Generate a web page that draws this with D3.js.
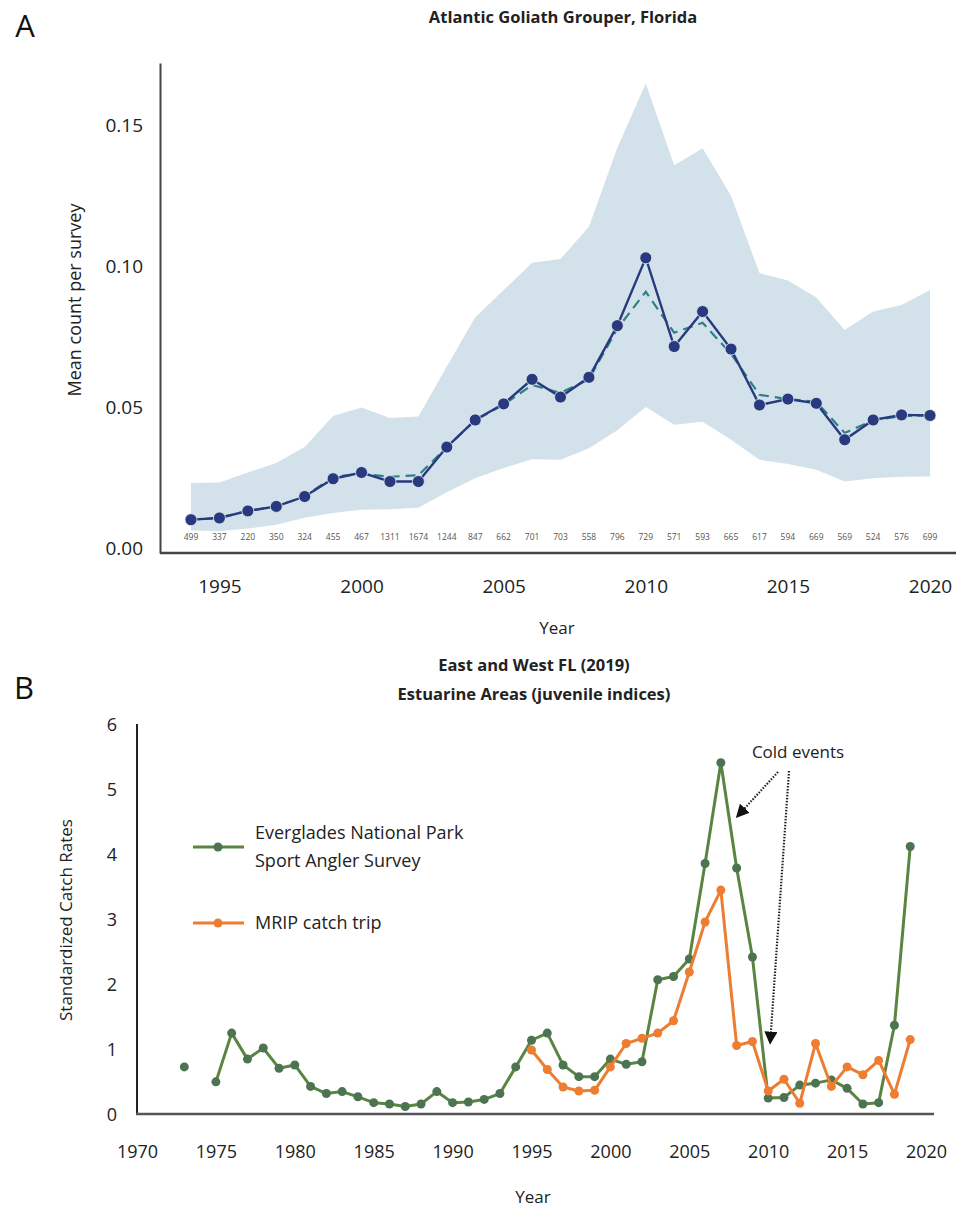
<!DOCTYPE html>
<html>
<head>
<meta charset="utf-8">
<script src="https://cdn.jsdelivr.net/npm/d3@7"></script>
<style>
  body { margin: 0; background: #fff; }
  svg { display: block; font-family: 'Open Sans', sans-serif; }
</style>
</head>
<body>
<svg id="chart" width="956" height="1211"></svg>
<script>
// Panel A: Atlantic Goliath Grouper, Florida
var yearsA = [1994, 1995, 1996, 1997, 1998, 1999, 2000, 2001, 2002, 2003, 2004, 2005, 2006,
  2007, 2008, 2009, 2010, 2011, 2012, 2013, 2014, 2015, 2016, 2017, 2018, 2019, 2020];
var meanA = [0.0103, 0.0109, 0.0134, 0.015, 0.0185, 0.0248, 0.027, 0.0238, 0.0238, 0.036, 0.0456,
  0.0513, 0.060, 0.0537, 0.0607, 0.079, 0.103, 0.0716, 0.084, 0.0707, 0.0509, 0.053, 0.0515,
  0.0386, 0.0456, 0.0474, 0.0472];
var modelA = [0.0103, 0.011, 0.0134, 0.015, 0.0185, 0.0255, 0.0265, 0.0255, 0.026, 0.036, 0.0455,
  0.051, 0.058, 0.0552, 0.060, 0.078, 0.091, 0.0765, 0.080, 0.069, 0.0545, 0.053, 0.052,
  0.041, 0.0455, 0.047, 0.0472];
var upperA = [0.0233, 0.0235, 0.027, 0.0304, 0.036, 0.047, 0.050, 0.0463, 0.0468, 0.0645, 0.082,
  0.0916, 0.1013, 0.1026, 0.114, 0.142, 0.1647, 0.1358, 0.1418, 0.125, 0.0976, 0.095, 0.089,
  0.0775, 0.084, 0.0863, 0.0916];
var lowerA = [0.0065, 0.0062, 0.0072, 0.0085, 0.011, 0.0127, 0.0138, 0.014, 0.0145, 0.020, 0.025,
  0.0286, 0.0317, 0.0315, 0.0356, 0.042, 0.0502, 0.0439, 0.045, 0.0386, 0.0315, 0.030, 0.028,
  0.0238, 0.025, 0.0255, 0.0256];
var surveysA = [499, 337, 220, 350, 324, 455, 467, 1311, 1674, 1244, 847, 662, 701, 703, 558, 796,
  729, 571, 593, 665, 617, 594, 669, 569, 524, 576, 699];
var yTicksA = [0, 0.05, 0.10, 0.15];
var xTicksA = [1995, 2000, 2005, 2010, 2015, 2020];

// Panel B: East and West FL estuarine juvenile indices
var yearsENP = [1973, 1975, 1976, 1977, 1978, 1979, 1980, 1981, 1982, 1983, 1984, 1985, 1986, 1987,
  1988, 1989, 1990, 1991, 1992, 1993, 1994, 1995, 1996, 1997, 1998, 1999, 2000, 2001, 2002, 2003,
  2004, 2005, 2006, 2007, 2008, 2009, 2010, 2011, 2012, 2013, 2014, 2015, 2016, 2017, 2018, 2019];
var ratesENP = [0.74, 0.51, 1.26, 0.86, 1.03, 0.72, 0.77, 0.44, 0.33, 0.36, 0.28, 0.19, 0.17, 0.13,
  0.17, 0.36, 0.19, 0.20, 0.24, 0.33, 0.74, 1.15, 1.26, 0.77, 0.59, 0.59, 0.86, 0.78, 0.82, 2.08,
  2.13, 2.40, 3.87, 5.42, 3.80, 2.43, 0.26, 0.27, 0.46, 0.49, 0.54, 0.41, 0.17, 0.19, 1.38, 4.13];
var yearsMRIP = [1995, 1996, 1997, 1998, 1999, 2000, 2001, 2002, 2003, 2004, 2005, 2006, 2007,
  2008, 2009, 2010, 2011, 2012, 2013, 2014, 2015, 2016, 2017, 2018, 2019];
var ratesMRIP = [1.0, 0.70, 0.43, 0.37, 0.38, 0.74, 1.10, 1.18, 1.26, 1.45, 2.20, 2.97, 3.46,
  1.07, 1.13, 0.37, 0.55, 0.18, 1.10, 0.44, 0.74, 0.62, 0.84, 0.32, 1.16];
var yTicksB = [0, 1, 2, 3, 4, 5, 6];
var xTicksB = [1970, 1975, 1980, 1985, 1990, 1995, 2000, 2005, 2010, 2015, 2020];
var coldEventYears = [2008, 2010];

var svg = d3.select('#chart');

var bandColor = '#d3e2ea',
    meanColor = '#29397f',
    modelColor = '#2f7f86',
    greenLine = '#5a8540',
    greenDot = '#4d7452',
    orange = '#ed7d31',
    axisColor = '#444';

drawPanelA();
drawPanelB();

// strip d3's default axis font so the page font is used
function styleTicks(g, size) {
  g.attr('font-family', null).attr('font-size', null);
  g.selectAll('text').attr('font-size', size).attr('fill', '#222');
}

function drawPanelA() {
  var x = d3.scaleLinear().domain([1994, 2020]).range([191, 930]),
      y = d3.scaleLinear().domain([-0.0015, 0.172]).range([553, 63]);

  var rows = yearsA.map(function (yr, i) {
    return { year: yr, mean: meanA[i], model: modelA[i], lo: lowerA[i], hi: upperA[i], n: surveysA[i] };
  });

  svg.append('text')
  .attr('x', 25).attr('y', 37)
  .attr('text-anchor', 'middle')
  .attr('font-size', 31)
  .attr('fill', '#111')
  .text('A');

  svg.append('text')
  .attr('x', 563).attr('y', 23)
  .attr('text-anchor', 'middle')
  .attr('font-size', 16.5)
  .attr('font-weight', 'bold')
  .attr('fill', '#222')
  .text('Atlantic Goliath Grouper, Florida');

  svg.append('path')
  .datum(rows)
  .attr('fill', bandColor)
  .attr('d', d3.area()
  .x(function (d) { return x(d.year); })
  .y0(function (d) { return y(d.lo); })
  .y1(function (d) { return y(d.hi); }));

  svg.append('path')
  .datum(rows)
  .attr('fill', 'none')
  .attr('stroke', modelColor)
  .attr('stroke-width', 2.2)
  .attr('stroke-dasharray', '10,6')
  .attr('d', d3.line()
  .x(function (d) { return x(d.year); })
  .y(function (d) { return y(d.model); }));

  svg.append('path')
  .datum(rows)
  .attr('fill', 'none')
  .attr('stroke', meanColor)
  .attr('stroke-width', 2.4)
  .attr('d', d3.line()
  .x(function (d) { return x(d.year); })
  .y(function (d) { return y(d.mean); }));

  svg.append('g')
  .selectAll('circle')
  .data(rows)
  .enter()
  .append('circle')
  .attr('cx', function (d) { return x(d.year); })
  .attr('cy', function (d) { return y(d.mean); })
  .attr('r', 6)
  .attr('fill', meanColor)
  .attr('stroke', '#e8eef4')
  .attr('stroke-width', 0.8);

  svg.append('g')
  .selectAll('text')
  .data(rows)
  .enter()
  .append('text')
  .attr('x', function (d) { return x(d.year); })
  .attr('y', 540)
  .attr('text-anchor', 'middle')
  .attr('font-size', 8.5)
  .attr('fill', '#555')
  .text(function (d) { return d.n; });

  // axes
  var yAxis = svg.append('g')
  .attr('transform', 'translate(160,0)')
  .call(d3.axisLeft(y).tickValues(yTicksA).tickSize(0).tickSizeOuter(0).tickPadding(17)
  .tickFormat(d3.format('.2f')));
  yAxis.select('.domain').attr('stroke', axisColor).attr('stroke-width', 2);
  styleTicks(yAxis, 19);

  svg.append('line')
  .attr('x1', 160).attr('x2', 956)
  .attr('y1', 553).attr('y2', 553)
  .attr('stroke', axisColor)
  .attr('stroke-width', 2.5);

  var xAxis = svg.append('g')
  .attr('transform', 'translate(0,553)')
  .call(d3.axisBottom(x).tickValues(xTicksA).tickSize(0).tickPadding(27).tickFormat(d3.format('d')));
  xAxis.select('.domain').remove();
  styleTicks(xAxis, 19);

  svg.append('text')
  .attr('x', 557).attr('y', 634)
  .attr('text-anchor', 'middle')
  .attr('font-size', 17)
  .attr('fill', '#222')
  .text('Year');

  svg.append('text')
  .attr('transform', 'translate(81,300) rotate(-90)')
  .attr('text-anchor', 'middle')
  .attr('font-size', 18)
  .attr('fill', '#222')
  .text('Mean count per survey');
}

function drawPanelB() {
  var x = d3.scaleLinear().domain([1970, 2020]).range([137, 926]),
      y = d3.scaleLinear().domain([0, 6]).range([1115, 725]);

  var enp = yearsENP.map(function (yr, i) { return { year: yr, v: ratesENP[i] }; }),
      mrip = yearsMRIP.map(function (yr, i) { return { year: yr, v: ratesMRIP[i] }; });

  svg.append('text')
  .attr('x', 24).attr('y', 699)
  .attr('text-anchor', 'middle')
  .attr('font-size', 31)
  .attr('fill', '#111')
  .text('B');

  svg.append('text')
  .attr('x', 534).attr('y', 671)
  .attr('text-anchor', 'middle')
  .attr('font-size', 16.5)
  .attr('font-weight', 'bold')
  .attr('fill', '#222')
  .text('East and West FL (2019)');

  svg.append('text')
  .attr('x', 534).attr('y', 700)
  .attr('text-anchor', 'middle')
  .attr('font-size', 16.5)
  .attr('font-weight', 'bold')
  .attr('fill', '#222')
  .text('Estuarine Areas (juvenile indices)');

  // axes
  var yAxis = svg.append('g')
  .attr('transform', 'translate(137,0)')
  .call(d3.axisLeft(y).tickValues(yTicksB).tickSize(0).tickPadding(20).tickFormat(d3.format('d')));
  yAxis.select('.domain').remove();
  styleTicks(yAxis, 18);

  svg.append('line')
  .attr('x1', 137).attr('x2', 137)
  .attr('y1', 724).attr('y2', 1114)
  .attr('stroke', '#222')
  .attr('stroke-width', 2);

  svg.append('line')
  .attr('x1', 136).attr('x2', 934)
  .attr('y1', 1114).attr('y2', 1114)
  .attr('stroke', '#555')
  .attr('stroke-width', 2.5);

  var xAxis = svg.append('g')
  .attr('transform', 'translate(0,1114)')
  .call(d3.axisBottom(x).tickValues(xTicksB).tickSize(0).tickPadding(31).tickFormat(d3.format('d')));
  xAxis.select('.domain').remove();
  styleTicks(xAxis, 18);

  svg.append('text')
  .attr('x', 533).attr('y', 1203)
  .attr('text-anchor', 'middle')
  .attr('font-size', 17)
  .attr('fill', '#222')
  .text('Year');

  svg.append('text')
  .attr('transform', 'translate(72,920) rotate(-90)')
  .attr('text-anchor', 'middle')
  .attr('font-size', 17)
  .attr('fill', '#222')
  .text('Standardized Catch Rates');

  // series: the ENP line breaks where a year is missing (1974)
  var line = d3.line()
  .defined(function (d) { return d != null; })
  .x(function (d) { return x(d.year); })
  .y(function (d) { return y(d.v); });

  function withGaps(rows) {
    var out = [];
    rows.forEach(function (d, i) {
      if (i > 0 && d.year - rows[i - 1].year > 1) out.push(null);
      out.push(d);
    });
    return out;
  }

  drawSeries(enp, greenLine, greenDot);
  drawSeries(mrip, orange, orange);

  function drawSeries(rows, lineColor, dotColor) {
    svg.append('path')
    .datum(withGaps(rows))
    .attr('fill', 'none')
    .attr('stroke', lineColor)
    .attr('stroke-width', 3)
    .attr('stroke-linejoin', 'round')
    .attr('d', line);

    svg.append('g')
    .selectAll('circle')
    .data(rows)
    .enter()
    .append('circle')
    .attr('cx', function (d) { return x(d.year); })
    .attr('cy', function (d) { return y(d.v); })
    .attr('r', 4.5)
    .attr('fill', dotColor);
  }

  // legend
  var legend = [
    { color: greenLine, dot: greenDot, y: 847, lines: ['Everglades National Park', 'Sport Angler Survey'] },
    { color: orange, dot: orange, y: 923, lines: ['MRIP catch trip'] }
  ];
  legend.forEach(function (item) {
    svg.append('line')
    .attr('x1', 193).attr('x2', 244)
    .attr('y1', item.y).attr('y2', item.y)
    .attr('stroke', item.color)
    .attr('stroke-width', 3);
    svg.append('circle')
    .attr('cx', 218).attr('cy', item.y).attr('r', 4.5)
    .attr('fill', item.dot);
    var t = svg.append('text')
    .attr('y', item.y + 6 - (item.lines.length - 1) * 14)
    .attr('font-size', 18)
    .attr('fill', '#222');
    item.lines.forEach(function (s, i) {
      t.append('tspan').attr('x', 255).attr('dy', i ? 28 : 0).text(s);
    });
  });

  // cold events annotation
  var defs = svg.append('defs');
  defs.append('marker')
  .attr('id', 'arrow')
  .attr('viewBox', '0 0 10 10')
  .attr('refX', 8).attr('refY', 5)
  .attr('markerWidth', 6).attr('markerHeight', 6)
  .attr('orient', 'auto')
  .append('path')
  .attr('d', 'M0,0L10,5L0,10Z')
  .attr('fill', '#111');

  svg.append('text')
  .attr('x', 798).attr('y', 758)
  .attr('text-anchor', 'middle')
  .attr('font-size', 17)
  .attr('fill', '#222')
  .text('Cold events');

  var arrows = [
    { x1: 778, y1: 772, year: coldEventYears[0], v: 4.6 },
    { x1: 789, y1: 771, year: coldEventYears[1], v: 1.12 }
  ];
  arrows.forEach(function (a) {
    svg.append('line')
    .attr('x1', a.x1).attr('y1', a.y1)
    .attr('x2', x(a.year) + (a.year === 2008 ? 1 : 2)).attr('y2', y(a.v))
    .attr('stroke', '#222')
    .attr('stroke-width', 2.2)
    .attr('stroke-dasharray', '1.5,1.5')
    .attr('marker-end', 'url(#arrow)');
  });
}
</script>
</body>
</html>
